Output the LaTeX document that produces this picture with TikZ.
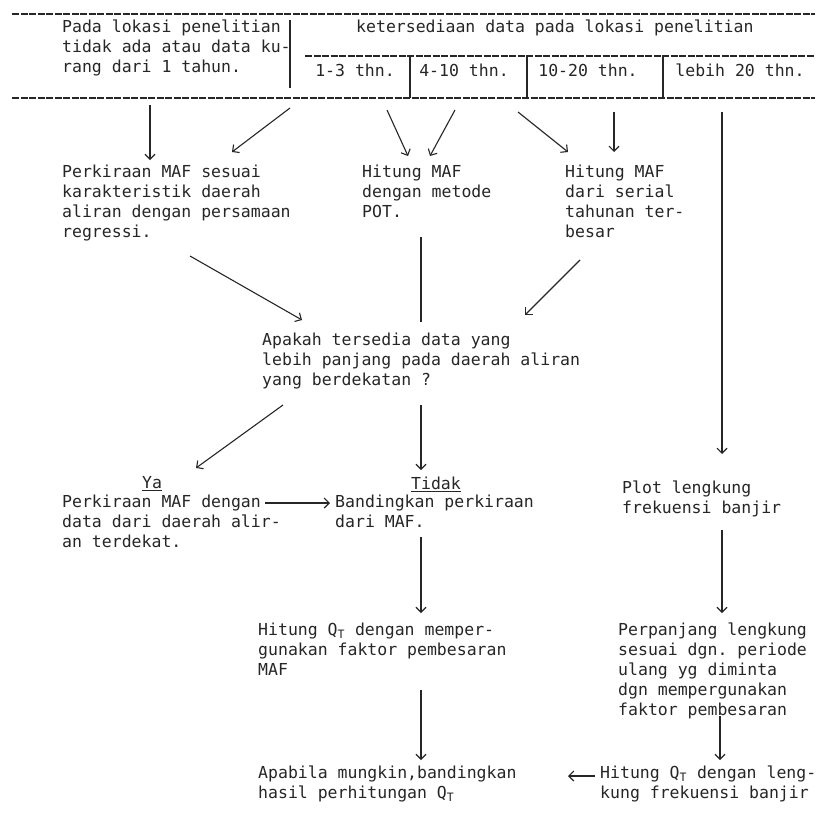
\documentclass[tikz,border=0pt]{standalone}
\usepackage{fontspec}
\setmonofont{DejaVu Sans Mono}
\usetikzlibrary{arrows.meta}
\definecolor{ink}{HTML}{262626}
\begin{document}
\begin{tikzpicture}[x=1pt,y=-1pt,
  txt/.style={anchor=north west, inner sep=0pt, align=left, font=\ttfamily\fontsize{16.5}{20}\selectfont, text=ink},
  cell/.style={anchor=center, inner sep=0pt, font=\ttfamily\fontsize{16.5}{20}\selectfont, text=ink},
  rule/.style={draw=ink, line width=1.1pt},
  dline/.style={draw=ink, line width=1.3pt, dash pattern=on 7pt off 1.5pt},
  arr/.style={draw=ink, line width=1.1pt, -{Straight Barb[length=5pt,width=10pt]}},
  plain/.style={draw=ink, line width=1.1pt},
]
\useasboundingbox[fill=white] (0,0) rectangle (815,825);

% ---------- header table ----------
\coordinate (t1) at (12,14);  \coordinate (t2) at (815,14);
\coordinate (b1) at (12,98);  \coordinate (b2) at (815,98);
\draw[dline] (t1) -- (t2);
\draw[dline] (b1) -- (b2);
\coordinate (m1) at (305,56); \coordinate (m2) at (815,56);
\draw[dline] (m1) -- (m2);
\coordinate (d0a) at (290,20); \coordinate (d0b) at (290,88);
\draw[rule] (d0a) -- (d0b);
\coordinate (d1a) at (410,56); \coordinate (d1b) at (410,98);
\coordinate (d2a) at (527,56); \coordinate (d2b) at (527,98);
\coordinate (d3a) at (663,56); \coordinate (d3b) at (663,98);
\draw[rule] (d1a) -- (d1b);
\draw[rule] (d2a) -- (d2b);
\draw[rule] (d3a) -- (d3b);

\node[txt] (nodata) at (62,20) {Pada lokasi penelitian\\tidak ada atau data ku-\\rang dari 1 tahun.};
\node[txt] (avail) at (356,20) {ketersediaan data pada lokasi penelitian};
\node[cell] (c1) at (355,70) {1-3 thn.};
\node[cell] (c2) at (464,70) {4-10 thn.};
\node[cell] (c3) at (588,70) {10-20 thn.};
\node[cell] (c4) at (740,70) {lebih 20 thn.};

% ---------- second row ----------
\node[txt] (boxA) at (62,165) {Perkiraan MAF sesuai\\karakteristik daerah\\aliran dengan persamaan\\regressi.};
\node[txt] (boxB) at (362,165) {Hitung MAF\\dengan metode\\POT.};
\node[txt] (boxC) at (565,165) {Hitung MAF\\dari serial\\tahunan ter-\\besar};

\coordinate (s1) at (150,105); \coordinate (e1) at (150,160);
\coordinate (s2) at (290,108); \coordinate (e2) at (232,152);
\coordinate (s3) at (387,110); \coordinate (e3) at (408,156);
\coordinate (s4) at (455,110); \coordinate (e4) at (430,156);
\coordinate (s5) at (518,112); \coordinate (e5) at (568,152);
\coordinate (s6) at (614,112); \coordinate (e6) at (614,152);
\coordinate (s7) at (722,112); \coordinate (e7) at (722,454);
\draw[arr] (s1) -- (e1);
\draw[arr] (s2) -- (e2);
\draw[arr] (s3) -- (e3);
\draw[arr] (s4) -- (e4);
\draw[arr] (s5) -- (e5);
\draw[arr] (s6) -- (e6);
\draw[arr] (s7) -- (e7);

% ---------- question ----------
\node[txt] (quest) at (262,333) {Apakah tersedia data yang\\lebih panjang pada daerah aliran\\yang berdekatan ?};
\coordinate (aA) at (190,256); \coordinate (aQ) at (302,320);
\coordinate (bB) at (421,237); \coordinate (bQ) at (421,322);
\coordinate (cC) at (580,260); \coordinate (cQ) at (525,315);
\draw[arr] (aA) -- (aQ);
\draw[plain] (bB) -- (bQ);
\draw[arr] (cC) -- (cQ);

% ---------- Ya / Tidak / Plot ----------
\node[cell] (yalab) at (152,484) {\underline{Ya}};
\node[txt] (ya) at (62,495) {Perkiraan MAF dengan\\data dari daerah alir-\\an terdekat.};
\node[cell] (tidaklab) at (436,484) {\underline{Tidak}};
\node[txt] (tidak) at (335,495) {Bandingkan perkiraan\\dari MAF.};
\node[txt] (plot) at (622,481) {Plot lengkung\\frekuensi banjir};

\coordinate (qY) at (283,405); \coordinate (yT) at (196,468);
\coordinate (qT) at (421,405); \coordinate (tT) at (421,470);
\coordinate (yR) at (265,503); \coordinate (tL) at (330,503);
\draw[arr] (qY) -- (yT);
\draw[arr] (qT) -- (tT);
\draw[arr] (yR) -- (tL);

% ---------- lower part ----------
\node[txt] (hitmaf) at (258,623) {Hitung Q\textsubscript{T} dengan memper-\\gunakan faktor pembesaran\\MAF};
\node[txt] (perp) at (618,623) {Perpanjang lengkung\\sesuai dgn. periode\\ulang yg diminta\\dgn mempergunakan\\faktor pembesaran};
\node[txt] (apabila) at (258,766) {Apabila mungkin,bandingkan\\hasil perhitungan Q\textsubscript{T}};
\node[txt] (hitleng) at (600,766) {Hitung Q\textsubscript{T} dengan leng-\\kung frekuensi banjir};

\coordinate (tB) at (421,537); \coordinate (hT) at (421,613);
\coordinate (pB) at (722,530); \coordinate (pT) at (722,613);
\coordinate (hB) at (421,690); \coordinate (aT) at (421,760);
\coordinate (rB) at (720,716); \coordinate (lT) at (720,760);
\coordinate (lL) at (595,776); \coordinate (aR) at (568,776);
\draw[arr] (tB) -- (hT);
\draw[arr] (pB) -- (pT);
\draw[arr] (hB) -- (aT);
\draw[arr] (rB) -- (lT);
\draw[arr] (lL) -- (aR);
\end{tikzpicture}
\end{document}
